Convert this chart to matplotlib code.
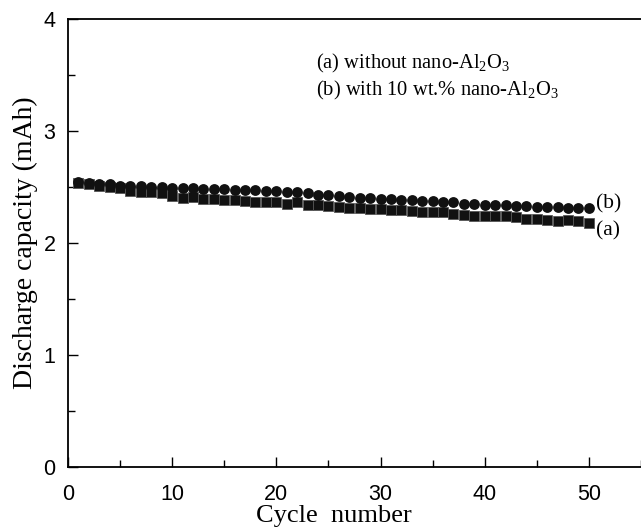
import matplotlib
matplotlib.use("Agg")
import matplotlib.pyplot as plt
from matplotlib.ticker import MultipleLocator

plt.rcParams["font.family"] = "Liberation Sans"
plt.rcParams["mathtext.fontset"] = "custom"
plt.rcParams["mathtext.rm"] = "Liberation Serif"
plt.rcParams["mathtext.it"] = "Liberation Serif:italic"

cycles = list(range(1, 51))

# (a) without nano-Al2O3 -- squares
cap_a = [2.53, 2.52, 2.51, 2.50, 2.49, 2.46, 2.45, 2.45, 2.44, 2.42,
         2.40, 2.41, 2.39, 2.39, 2.38, 2.38, 2.37, 2.36, 2.36, 2.36,
         2.35, 2.36, 2.34, 2.34, 2.33, 2.32, 2.31, 2.31, 2.30, 2.30,
         2.29, 2.29, 2.28, 2.27, 2.27, 2.27, 2.26, 2.25, 2.24, 2.24,
         2.24, 2.24, 2.23, 2.21, 2.21, 2.20, 2.19, 2.20, 2.19, 2.18]

# (b) with 10 wt.% nano-Al2O3 -- circles
cap_b = [2.54, 2.53, 2.52, 2.52, 2.51, 2.51, 2.51, 2.50, 2.50, 2.49,
         2.49, 2.49, 2.48, 2.48, 2.48, 2.47, 2.47, 2.47, 2.46, 2.46,
         2.45, 2.45, 2.44, 2.43, 2.43, 2.42, 2.41, 2.40, 2.40, 2.39,
         2.39, 2.38, 2.38, 2.37, 2.37, 2.36, 2.36, 2.35, 2.35, 2.34,
         2.34, 2.34, 2.33, 2.33, 2.32, 2.32, 2.32, 2.31, 2.31, 2.31]

fig = plt.figure(figsize=(6.41, 5.30), dpi=100)
ax = fig.add_axes([0.106, 0.119, 0.894, 0.846])

ax.plot(cycles, cap_a, "s", color="#111111", markersize=6.8, markeredgewidth=0.6,
        markeredgecolor="#555555", linestyle="none")
ax.plot(cycles, cap_b, "o", color="#111111", markersize=7.8, markeredgewidth=0,
        linestyle="none")

ax.set_xlim(0, 55)
ax.set_ylim(0, 4)
ax.xaxis.set_major_locator(MultipleLocator(10))
ax.xaxis.set_minor_locator(MultipleLocator(5))
ax.yaxis.set_major_locator(MultipleLocator(1))
ax.yaxis.set_minor_locator(MultipleLocator(0.5))
ax.tick_params(which="both", direction="in", width=1.0, labelsize=15.5)
ax.tick_params(axis="x", pad=12)
ax.tick_params(axis="y", pad=9)
ax.tick_params(which="major", length=7)
ax.tick_params(which="minor", length=5)

ax.spines["right"].set_visible(False)
for s in ["left", "bottom", "top"]:
    ax.spines[s].set_linewidth(1.3)

ax.set_xlabel("Cycle  number", family="Liberation Serif", fontsize=19, labelpad=2)
ax.set_ylabel("Discharge capacity (mAh)", family="Liberation Serif", fontsize=20, labelpad=4)
ax.xaxis.set_label_coords(0.464, -0.085)

ax.text(23.8, 3.60, r"(a) without nano-Al$_2$O$_3$", family="Liberation Serif",
        fontsize=14.8, va="center")
ax.text(23.8, 3.36, r"(b) with 10 wt.% nano-Al$_2$O$_3$", family="Liberation Serif",
        fontsize=14.8, va="center")
ax.text(50.7, 2.35, "(b)", family="Liberation Serif", fontsize=15.5, va="center")
ax.text(50.7, 2.11, "(a)", family="Liberation Serif", fontsize=15.5, va="center")

fig.savefig("out.png", dpi=100)
